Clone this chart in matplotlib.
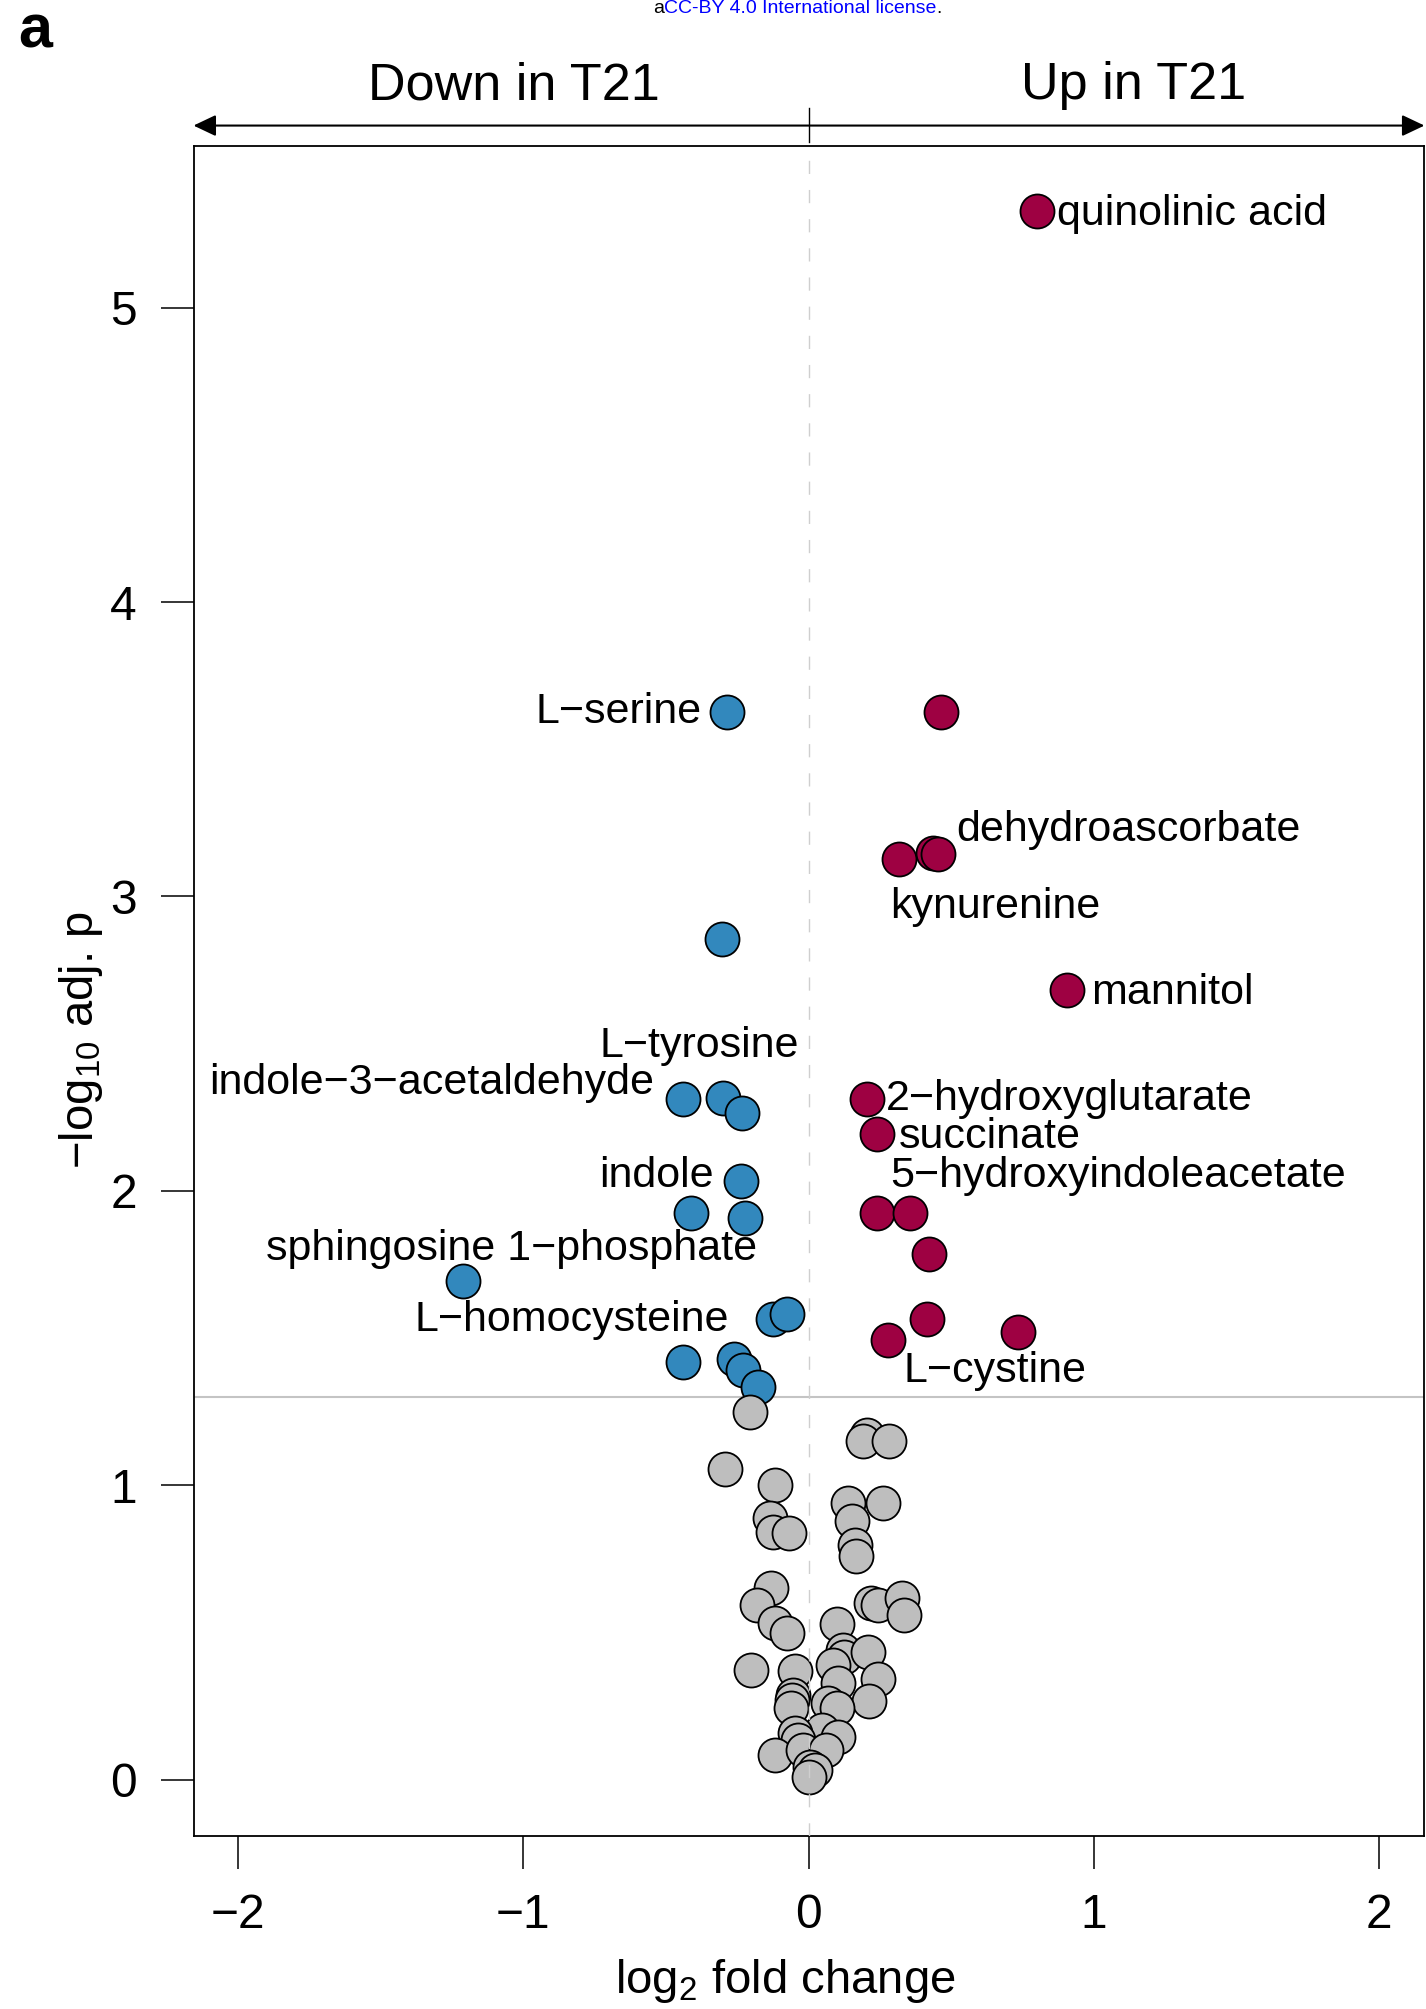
import matplotlib.pyplot as plt
import numpy as np
from matplotlib.lines import Line2D
from matplotlib.transforms import blended_transform_factory

plt.rcParams['font.family'] = ['Liberation Sans', 'DejaVu Sans']
plt.rcParams['mathtext.fontset'] = 'custom'
plt.rcParams['mathtext.rm'] = 'Liberation Sans'
plt.rcParams['mathtext.it'] = 'Liberation Sans:italic'

# metabolites up in T21 (log2 fold change, -log10 adj. p)
up_fc = [0.80, 0.463, 0.317, 0.435, 0.455, 0.907, 0.204, 0.239, 0.239, 0.356, 0.424, 0.414, 0.28, 0.736]
up_p = [5.328, 3.627, 3.127, 3.146, 3.144, 2.681, 2.311, 2.192, 1.924, 1.924, 1.785, 1.564, 1.493, 1.519]

# metabolites down in T21
down_fc = [-0.285, -0.305, -0.441, -0.301, -0.234, -0.238, -0.413, -0.223, -1.212,
           -0.125, -0.074, -0.44, -0.26, -0.229, -0.176]
down_p = [3.627, 2.855, 2.311, 2.314, 2.265, 2.034, 1.924, 1.909, 1.693,
          1.565, 1.582, 1.42, 1.43, 1.39, 1.335]

# not significant
ns_fc = [-0.205, 0.204, 0.192, 0.283, -0.293, -0.117, -0.135, -0.123, -0.07, 0.14,
         0.262, 0.154, 0.163, 0.165, -0.131, -0.18, -0.117, -0.076, 0.218, 0.245,
         0.327, 0.335, 0.099, -0.202, -0.047, 0.122, 0.124, 0.207, 0.087, 0.245,
         0.105, 0.212, -0.055, -0.059, -0.062, 0.069, 0.099, 0.046, 0.105, -0.047,
         -0.036, -0.117, -0.018, 0.061, 0.005, 0.023, 0.0]
ns_p = [1.25, 1.17, 1.15, 1.15, 1.055, 1.00, 0.89, 0.84, 0.837, 0.94,
        0.94, 0.88, 0.797, 0.76, 0.652, 0.593, 0.533, 0.497, 0.599, 0.593,
        0.616, 0.559, 0.528, 0.373, 0.368, 0.44, 0.417, 0.432, 0.389, 0.341,
        0.327, 0.266, 0.287, 0.27, 0.242, 0.259, 0.242, 0.168, 0.144, 0.157,
        0.135, 0.084, 0.10, 0.10, 0.044, 0.033, 0.01]

# point labels
label_names = ['quinolinic acid', 'L\u2212serine', 'dehydroascorbate', 'kynurenine', 'mannitol',
               'L\u2212tyrosine', 'indole\u22123\u2212acetaldehyde', '2\u2212hydroxyglutarate',
               'succinate', '5\u2212hydroxyindoleacetate', 'indole', 'sphingosine 1\u2212phosphate',
               'L\u2212homocysteine', 'L\u2212cystine']
label_x = [0.87, -0.374, 0.519, 0.286, 0.99, -0.032, -0.540, 0.272, 0.318, 0.286,
           -0.331, -0.179, -0.278, 0.332]
label_y = [5.281, 3.588, 3.19, 2.926, 2.634, 2.453, 2.33, 2.274, 2.144, 2.014,
           2.014, 1.765, 1.525, 1.35]
label_ha = ['left', 'right', 'left', 'left', 'left', 'right', 'right', 'left', 'left', 'left',
            'right', 'right', 'right', 'left']

x_ticks = [-2, -1, 0, 1, 2]
y_ticks = [0, 1, 2, 3, 4, 5]
p_cut = 0.05

fig = plt.figure(figsize=(14.26, 20.09), dpi=100)
ax = fig.add_axes([0.1357, 0.0859, 0.8632, 0.8414])

pt = dict(s=600, edgecolors='black', linewidths=1.3, zorder=3)
ax.scatter(down_fc, down_p, c='#3288BD', **pt)
ax.scatter(up_fc, up_p, c='#9E0142', **pt)
ax.scatter(ns_fc, ns_p, c='#BEBEBE', **pt)

ax.axhline(-np.log10(p_cut), color='#C4C4C4', lw=1.5, zorder=1)
ax.axvline(0, color='#CFCFCF', lw=1.0, dashes=(9.5, 11.5), zorder=4)

for name, x, y, ha in zip(label_names, label_x, label_y, label_ha):
    ax.text(x, y, name, ha=ha, va='baseline', fontsize=31, zorder=5)

ax.set_xlim(-2.156, 2.159)
ax.set_ylim(-0.193, 5.549)
ax.set_xticks(x_ticks)
ax.set_yticks(y_ticks)
ax.tick_params(direction='out', length=23.8, width=1.1, pad=17, labelsize=34.5)
for sp in ax.spines.values():
    sp.set_linewidth(1.3)

fig.text(0.0568, 0.4823, '\u2212log$_{\\mathrm{10}}$ adj. p', rotation=90,
         ha='center', va='center', fontsize=34)
fig.text(0.551, 0.008, 'log$_{\\mathrm{2}}$ fold change', ha='center', va='baseline', fontsize=34)

# direction arrow above the panel
trans = blended_transform_factory(ax.transData, fig.transFigure)
ax.annotate('', xy=(-2.156, 0.9375), xytext=(2.159, 0.9375), xycoords=trans, textcoords=trans,
            arrowprops=dict(arrowstyle='<|-|>,head_length=13.7,head_width=6.5', mutation_scale=1,
                            lw=1.5, color='black', shrinkA=0, shrinkB=0),
            annotation_clip=False)
fig.add_artist(Line2D([0, 0], [0.9462, 0.9293], transform=trans, color='black', lw=1.0))
fig.text(-1.032, 0.9507, 'Down in T21', transform=trans, ha='center', va='baseline', fontsize=37.5)
fig.text(1.141, 0.9507, 'Up in T21', transform=trans, ha='center', va='baseline', fontsize=37.5)

fig.text(0.0126, 0.9766, 'a', fontsize=44, fontweight='bold', ha='left', va='baseline')

t1 = fig.text(0.458, 0.99353, 'a', fontsize=14, ha='left', va='baseline')
t2 = ax.annotate('CC-BY 4.0 International license', xy=(1, 0), xycoords=t1,
                 ha='left', va='bottom', fontsize=14, color='#0000FF', annotation_clip=False)
ax.annotate('.', xy=(1, 0), xycoords=t2, ha='left', va='bottom', fontsize=14,
            annotation_clip=False)

fig.savefig('out.png', dpi=100)
